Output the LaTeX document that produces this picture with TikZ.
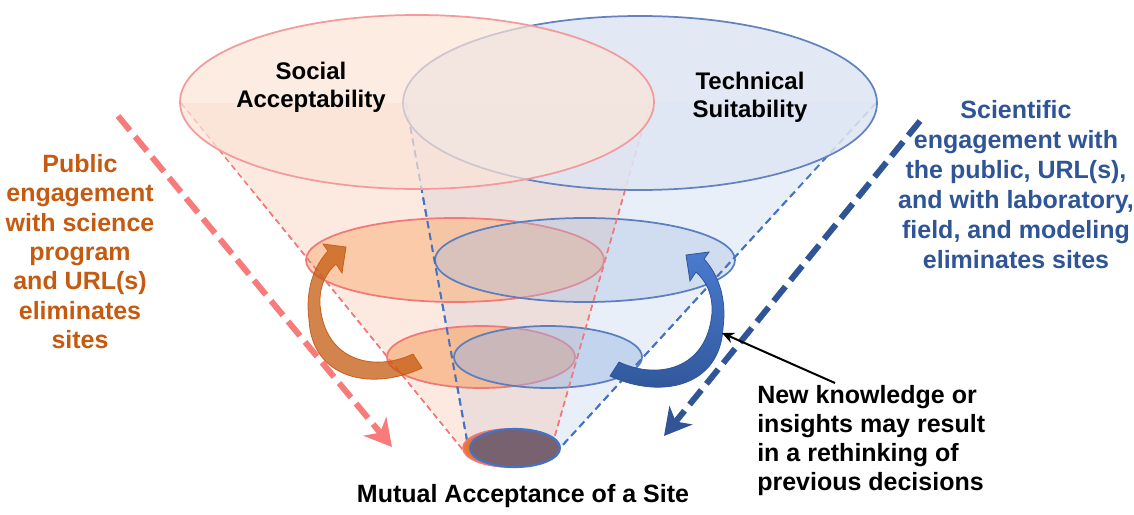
\documentclass[tikz,border=0pt]{standalone}
\usepackage{fontspec}
\setmainfont{Liberation Sans}
\usetikzlibrary{arrows.meta}
\definecolor{conered}{HTML}{F8B89A}
\definecolor{coneblue}{HTML}{A9C0E8}
\definecolor{topredfill}{HTML}{FBE4D7}
\definecolor{topblufill}{HTML}{DEE6F4}
\definecolor{topredline}{HTML}{F29B9B}
\definecolor{topbluline}{HTML}{6482BE}
\definecolor{redline}{HTML}{F27878}
\definecolor{bluline}{HTML}{5A7EC0}
\definecolor{midred}{HTML}{FBB683}
\definecolor{midblue}{HTML}{A2BCE4}
\definecolor{lowred}{HTML}{F8A468}
\definecolor{lowblue}{HTML}{96B4E4}
\definecolor{dashred}{HTML}{F77B7B}
\definecolor{dashblue}{HTML}{2F5597}
\definecolor{conedashblue}{HTML}{4472C4}
\definecolor{orangetxt}{HTML}{C55A11}
\definecolor{bluetxt}{HTML}{2F5597}
\definecolor{botfill}{HTML}{786270}
\definecolor{botorange}{HTML}{E8762C}
\definecolor{arrowblue1}{HTML}{4A7BD0}
\definecolor{arrowblue2}{HTML}{2F5597}
\tikzset{
  redcone/.style={fill=conered, fill opacity=0.3},
  bluecone/.style={fill=coneblue, fill opacity=0.25},
  conedashred/.style={draw=redline, line width=1.1pt, dash pattern=on 4.5pt off 3pt},
  conedashblu/.style={draw=conedashblue, line width=1.4pt, dash pattern=on 5.5pt off 3.5pt},
  bigdash/.style={line width=4.5pt, dash pattern=on 14pt off 6pt,
     -{Stealth[length=20pt,width=22pt,inset=6pt]}},
  lbl/.style={font=\fontsize{18}{21}\selectfont\bfseries, align=center, inner sep=0pt},
  sidetxt/.style={font=\fontsize{18.75}{22}\selectfont\bfseries, align=center, inner sep=0pt},
  conelines/.pic={
    \draw[conedashred] (181,103) -- (463,450);
    \draw[conedashred] (650,103) -- (552,446);
    \draw[conedashblu] (406,103) -- (468,446);
    \draw[conedashblu] (876,103) -- (560,448);
  },
}
\begin{document}
\begin{tikzpicture}[x=0.75pt,y=-0.75pt]
\useasboundingbox (0,0) rectangle (1134,514);
\fill[white] (0,0) rectangle (1134,514);

% cones
\path[bluecone] (406,103) -- (876,103) -- (560,448) -- (468,448) -- cycle;
\path[redcone] (181,103) -- (650,103) -- (552,448) -- (463,448) -- cycle;

% cone dashed edges (under the top ellipses)
\pic {conelines};

% top ellipses
\draw[topbluline, line width=1.3pt, fill=topblufill, fill opacity=0.85] (640,103) ellipse [x radius=237, y radius=87];
\draw[topredline, line width=1.3pt, fill=topredfill, fill opacity=0.7] (417,102) ellipse [x radius=237, y radius=87];

% middle ellipses
\draw[redline, line width=1.3pt, fill=midred, fill opacity=0.6] (455,260) ellipse [x radius=149, y radius=42];
\draw[bluline, line width=1.3pt, fill=midblue, fill opacity=0.35] (585,260) ellipse [x radius=150, y radius=42];

% lower ellipses
\draw[redline, line width=1.3pt, fill=lowred, fill opacity=0.6] (481,357) ellipse [x radius=94, y radius=31];
\draw[bluline, line width=1.3pt, fill=lowblue, fill opacity=0.45] (548,357) ellipse [x radius=94, y radius=31];

% cone dashed edges again, over the middle and lower ellipses
\begin{scope}
\clip (0,192) rectangle (1134,514);
\pic {conelines};
\end{scope}

% bottom ellipses
\draw[redline, line width=1.3pt, fill=botorange] (510,448) ellipse [x radius=47, y radius=19];
\draw[conedashblue, line width=1.6pt, fill=botfill] (515,448) ellipse [x radius=45, y radius=19];

% dashed side arrows
\coordinate (redS) at (118,116);
\coordinate (redE) at (392,447);
\coordinate (bluS) at (920,121);
\coordinate (bluE) at (664,436);
\draw[bigdash, draw=dashred, color=dashred] (redS) -- (redE);
\draw[bigdash, draw=dashblue, color=dashblue] (bluS) -- (bluE);

% orange curved arrow
\path[fill=orangetxt, fill opacity=0.75, draw=orangetxt, draw opacity=0.9, line width=0.6pt]
  (413,354) .. controls (375,372) and (325,362) .. (320,305)
  .. controls (319,285) and (327,272) .. (336,264)
  -- (342,273) -- (346,247) -- (323,244) -- (328,251)
  .. controls (314,266) and (305,290) .. (309,320)
  .. controls (312,378) and (370,392) .. (422,368) -- cycle;

% blue curved arrow (mirror)
\begin{scope}[shift={(1032,8)}, xscale=-1]
\path[top color=arrowblue1, bottom color=arrowblue2, draw=arrowblue2, line width=0.6pt]
  (413,354) .. controls (375,372) and (325,362) .. (320,305)
  .. controls (319,285) and (327,272) .. (336,264)
  -- (342,273) -- (346,247) -- (323,244) -- (328,251)
  .. controls (314,266) and (305,290) .. (309,320)
  .. controls (312,378) and (370,392) .. (422,368) -- cycle;
\end{scope}

% labels
\node[lbl, anchor=north] (social) at (311,62) {Social\\Acceptability};
\node[lbl, anchor=north] (technical) at (750,72) {Technical\\Suitability};
\node[sidetxt, text=orangetxt, anchor=north] (public) at (80,154)
  {Public\\engagement\\with science\\program\\and URL(s)\\eliminates\\sites};
\node[sidetxt, text=bluetxt, anchor=north, font=\fontsize{18.75}{22.5}\selectfont\bfseries] (scientific) at (1016,100)
  {Scientific\\engagement with\\the public, URL(s),\\and with laboratory,\\field, and modeling\\eliminates sites};
\node[sidetxt, align=left, anchor=north west, font=\fontsize{18.75}{21.75}\selectfont\bfseries] (note) at (757,385)
  {New knowledge or\\insights may result\\in a rethinking of\\previous decisions};
\node[sidetxt, anchor=base] (mutual) at (523,502) {Mutual Acceptance of a Site};

% pointer
\coordinate (ptrS) at (835,383);
\coordinate (ptrE) at (722,333);
\draw[line width=1.5pt, -{Stealth[length=9pt,width=8pt]}] (ptrS) -- (ptrE);
\end{tikzpicture}
\end{document}
